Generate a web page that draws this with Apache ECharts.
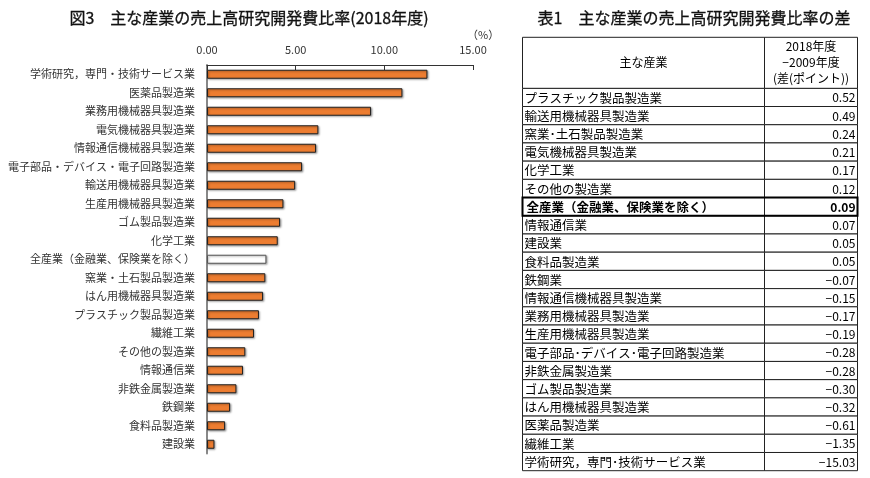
<!DOCTYPE html>
<html>
<head>
<meta charset="utf-8">
<script src="https://cdn.jsdelivr.net/npm/echarts@6/dist/echarts.min.js"></script>
<style>html,body{margin:0;padding:0;background:#fff}#c{width:870px;height:478px}</style>
</head>
<body>
<div id="c"></div>
<script>
// ---- Figure 3 data (2018, %) ----
const chartCategories = [
  '学術研究，専門・技術サービス業','医薬品製造業','業務用機械器具製造業','電気機械器具製造業',
  '情報通信機械器具製造業','電子部品・デバイス・電子回路製造業','輸送用機械器具製造業',
  '生産用機械器具製造業','ゴム製品製造業','化学工業','全産業（金融業、保険業を除く）',
  '窯業・土石製品製造業','はん用機械器具製造業','プラスチック製品製造業','繊維工業',
  'その他の製造業','情報通信業','非鉄金属製造業','鉄鋼業','食料品製造業','建設業'
];
const chartValues = [12.43, 11.02, 9.25, 6.28, 6.15, 5.36, 4.97, 4.31, 4.12, 3.99, 3.35,
  3.29, 3.16, 2.93, 2.65, 2.16, 2.03, 1.66, 1.30, 1.02, 0.42];
const totalCategory = '全産業（金融業、保険業を除く）';
const xTicks = [0, 5, 10, 15];

// ---- Table 1 data (difference 2018 - 2009, points) ----
const tableNames = [
  'プラスチック製品製造業','輸送用機械器具製造業','窯業･土石製品製造業','電気機械器具製造業',
  '化学工業','その他の製造業','全産業（金融業、保険業を除く）','情報通信業','建設業',
  '食料品製造業','鉄鋼業','情報通信機械器具製造業','業務用機械器具製造業','生産用機械器具製造業',
  '電子部品･デバイス･電子回路製造業','非鉄金属製造業','ゴム製品製造業','はん用機械器具製造業',
  '医薬品製造業','繊維工業','学術研究，専門･技術サービス業'
];
const tableValues = [0.52, 0.49, 0.24, 0.21, 0.17, 0.12, 0.09, 0.07, 0.05, 0.05, -0.07,
  -0.15, -0.17, -0.19, -0.28, -0.28, -0.30, -0.32, -0.61, -1.35, -15.03];
const tableHeaderName = '主な産業';
const tableHeaderValue = ['2018年度', '−2009年度', '(差(ポイント))'];

const FONT = '"Noto Sans CJK JP", "Noto Sans", sans-serif';
const SPLIT = 0.722;
const HEADER_H = 51;

const chart = echarts.init(document.getElementById('c'));

function fmt(v) {
  const s = Math.abs(v).toFixed(2);
  return v < 0 ? '−' + s : s;
}

const titleStyle = { fontSize: 16, fontWeight: 'normal', color: '#111', fontFamily: FONT,
  textBorderColor: '#111', textBorderWidth: 0.3 };

chart.setOption({
  animation: false,
  backgroundColor: '#fff',
  textStyle: { fontFamily: FONT },
  title: [
    { text: '図3　主な産業の売上高研究開発費比率(2018年度)', left: 244, top: 5, textAlign: 'center',
      textStyle: titleStyle },
    { text: '（%）', left: 462, top: 24,
      textStyle: { fontSize: 11, fontWeight: 'normal', color: '#333', fontFamily: FONT } },
    { text: '表1　主な産業の売上高研究開発費比率の差', left: 689, top: 5, textAlign: 'center',
      textStyle: titleStyle }
  ],
  grid: [
    { left: 207, top: 65, width: 266, height: 388.5 },
    { left: 522, top: 88.3, width: 335, height: 382.4 }
  ],
  xAxis: [
    { gridIndex: 0, type: 'value', position: 'top', min: 0, max: 15, interval: 5,
      axisLine: { show: true, lineStyle: { color: '#333', width: 1 } },
      axisTick: { show: true, inside: true, length: 5, lineStyle: { color: '#333' } },
      axisLabel: { margin: 10, fontSize: 11, color: '#333', formatter: v => v.toFixed(2) },
      splitLine: { show: false } },
    { gridIndex: 1, type: 'value', min: 0, max: 1, show: false }
  ],
  yAxis: [
    { gridIndex: 0, type: 'category', inverse: true, data: chartCategories,
      axisLine: { show: true, lineStyle: { color: '#888', width: 2 } },
      axisTick: { show: false },
      axisLabel: { fontSize: 11, color: '#333', margin: 12, interval: 0 } },
    { gridIndex: 1, type: 'category', inverse: true, data: tableNames, show: false }
  ],
  series: [
    { type: 'bar', xAxisIndex: 0, yAxisIndex: 0, barWidth: 9,
      data: chartValues.map((v, i) => ({
        value: v,
        itemStyle: chartCategories[i] === totalCategory
          ? { color: '#fff', borderColor: '#555', borderWidth: 1 }
          : { color: '#ED7D31', borderColor: '#222', borderWidth: 1 }
      })),
      itemStyle: { shadowColor: 'rgba(0,0,0,0.35)', shadowBlur: 2, shadowOffsetX: 1, shadowOffsetY: 1 }
    },
    { type: 'custom', xAxisIndex: 1, yAxisIndex: 1,
      encode: { x: 0, y: 1 },
      data: tableNames.map((n, i) => [0, i]),
      renderItem: function (params, api) {
        const idx = api.value(1);
        const cs = params.coordSys;
        const yc = api.coord([0, idx])[1];
        const h = api.size([0, 1])[1];
        const x0 = Math.round(cs.x) + 0.5, x1 = Math.round(cs.x + cs.width) + 0.5;
        const xs = Math.round(cs.x + cs.width * SPLIT) + 0.5;
        const top = yc - h / 2;
        const bold = tableNames[idx] === totalCategory;
        const lineStyle = { fill: '#fff', stroke: '#222', lineWidth: 1 };
        const children = [
          { type: 'rect', shape: { x: x0, y: top, width: xs - x0, height: h }, style: lineStyle },
          { type: 'rect', shape: { x: xs, y: top, width: x1 - xs, height: h }, style: lineStyle },
          { type: 'text', z2: 5, style: { text: tableNames[idx], x: x0 + (bold ? 4 : 2), y: yc + 0.5,
              align: 'left', verticalAlign: 'middle', fill: '#000',
              font: (bold ? 'bold ' : '') + '12.5px ' + FONT } },
          { type: 'text', z2: 5, style: { text: fmt(tableValues[idx]), x: x1 - 2, y: yc + 0.5,
              align: 'right', verticalAlign: 'middle', fill: '#000',
              font: (bold ? 'bold ' : '') + '12px ' + FONT } }
        ];
        if (bold) {
          children.push({ type: 'rect', z2: 10, shape: { x: x0, y: top, width: x1 - x0, height: h },
            style: { fill: 'none', stroke: '#000', lineWidth: 2 } });
        }
        if (idx === 0) {
          const ht = top - HEADER_H;
          children.push(
            { type: 'rect', shape: { x: x0, y: ht, width: xs - x0, height: HEADER_H }, style: lineStyle },
            { type: 'rect', shape: { x: xs, y: ht, width: x1 - xs, height: HEADER_H }, style: lineStyle },
            { type: 'text', z2: 5, style: { text: tableHeaderName, x: (x0 + xs) / 2, y: ht + HEADER_H / 2,
                align: 'center', verticalAlign: 'middle', fill: '#000', font: '12px ' + FONT } },
            { type: 'text', z2: 5, style: { text: tableHeaderValue.join('\n'), x: (xs + x1) / 2, y: ht + HEADER_H / 2,
                align: 'center', verticalAlign: 'middle', fill: '#000', lineHeight: 16, font: '12px ' + FONT } }
          );
        }
        return { type: 'group', children: children };
      }
    }
  ]
});
</script>
</body>
</html>
